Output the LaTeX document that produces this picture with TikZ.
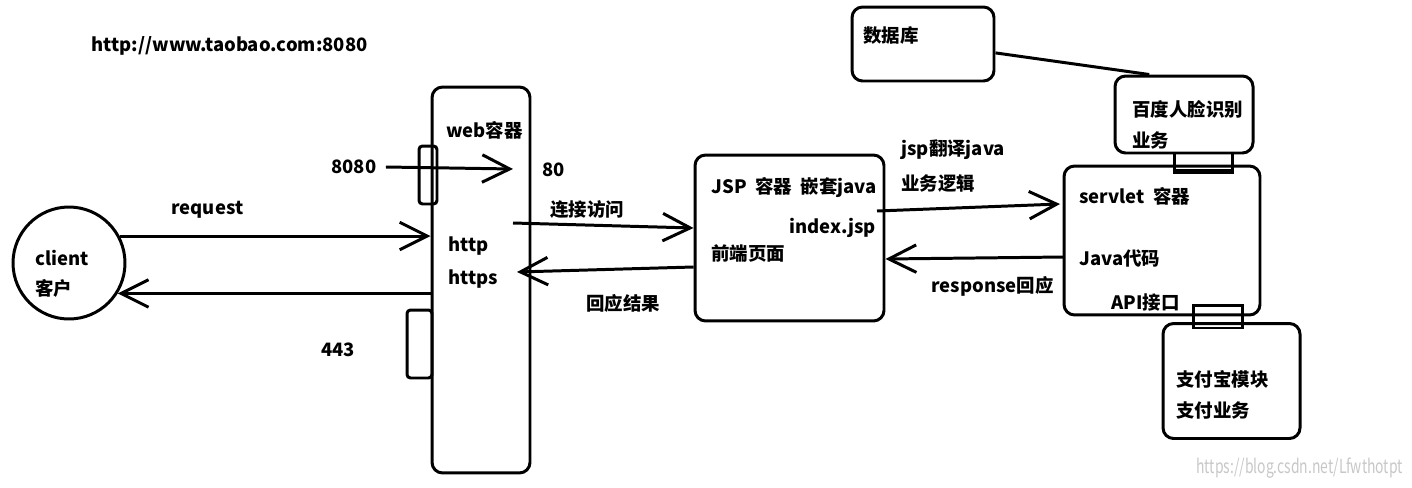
\documentclass[tikz,border=0pt]{standalone}
\usepackage{fontspec}
\setmainfont{Noto Sans CJK SC}
\usetikzlibrary{arrows.meta}

\begin{document}
\begin{tikzpicture}[x=0.02cm,y=-0.02cm,line width=1.7pt,
  >={Straight Barb[length=0.55cm,width=0.55cm]},
  box node/.style={draw,rounded corners=6pt,inner sep=0pt},
  port node/.style={draw,rounded corners=2pt,inner sep=0pt},
  text node/.style={anchor=west,inner sep=0pt,font=\bfseries\fontsize{10.5}{12}\selectfont}]

  \useasboundingbox (0,0) rectangle (1412,487);

  % boxes
  \node[draw,circle,minimum size=2.24cm,inner sep=0pt] (client) at (69,263) {};
  \node[box node,minimum width=1.96cm,minimum height=7.72cm] (web) at (481,280) {};
  \node[port node,minimum width=0.36cm,minimum height=1.16cm] (port1) at (428,175) {};
  \node[port node,minimum width=0.5cm,minimum height=1.36cm] (port2) at (419.5,344) {};
  \node[box node,minimum width=3.78cm,minimum height=3.32cm] (jsp) at (789.5,238) {};
  \node[box node,minimum width=2.84cm,minimum height=1.48cm] (db) at (923,44) {};
  \node[box node,minimum width=2.76cm,minimum height=1.54cm] (face) at (1184,114.5) {};
  \node[port node,rounded corners=0pt,minimum width=1.16cm,minimum height=0.34cm] (link1) at (1203,161.5) {};
  \node[box node,minimum width=3.92cm,minimum height=2.98cm] (servlet) at (1162,240.5) {};
  \node[box node,minimum width=2.74cm,minimum height=2.3cm] (pay) at (1231.5,381) {};
  \node[port node,rounded corners=0pt,minimum width=0.98cm,minimum height=0.46cm] (link2) at (1217.5,316.5) {};

  % texts
  \node[text node] (url) at (90,46) {http://www.taobao.com:8080};
  \node[text node] (client1) at (34,258) {client};
  \node[text node] (client2) at (34,288) {客户};
  \node[text node] (webname) at (445,130) {web容器};
  \node[text node] (t8080) at (330,167) {8080};
  \node[text node] (t80) at (541,170) {80};
  \node[text node] (req) at (170,210) {request};
  \node[text node] (http) at (447,246) {http};
  \node[text node] (https) at (447,279) {https};
  \node[text node] (t443) at (320,350) {443};
  \node[text node] (visit) at (549,210) {连接访问};
  \node[text node] (result) at (585,303) {回应结果};
  \node[text node] (jsp1) at (710,188) {JSP\ \ 容器\ \ 嵌套java};
  \node[text node] (jsp2) at (788,228) {index.jsp};
  \node[text node] (jsp3) at (710,253) {前端页面};
  \node[text node] (trans1) at (900,150) {jsp翻译java};
  \node[text node] (trans2) at (900,184) {业务逻辑};
  \node[text node] (resp) at (930,286) {response回应};
  \node[text node] (srv1) at (1078,196) {servlet\ \ 容器};
  \node[text node] (srv2) at (1078,258) {Java代码};
  \node[text node] (srv3) at (1110,303) {API接口};
  \node[text node] (dbname) at (862,35) {数据库};
  \node[text node] (face1) at (1131,109) {百度人脸识别};
  \node[text node] (face2) at (1131,140) {业务};
  \node[text node] (pay1) at (1175,379) {支付宝模块};
  \node[text node] (pay2) at (1175,410) {支付业务};
  \node[anchor=west,inner sep=0pt,text=black!22,font=\fontsize{11}{12}\selectfont] (mark) at (1195,468) {\scalebox{0.72}[1]{https://blog.csdn.net/Lfwthotpt}};

  % free ends
  \coordinate (in80) at (513,169);
  \coordinate (webout) at (513,223);
  \coordinate (webin) at (517,272);
  \coordinate (jspout) at (877,211);
  \coordinate (srvin) at (1060,204);
  \coordinate (srvout) at (1064,257);

  \draw[->] ([xshift=0.16cm]t8080.east) -- (in80);
  \draw[->] (client.28) -- (client.28 -| web.west);
  \draw[->] (client.-32 -| web.west) -- (client.-32);
  \draw[->] (webout) -- (jsp.west |- 0,228);
  \draw[->] (jsp.west |- 0,267) -- (webin);
  \draw[->] (jspout) -- (srvin);
  \draw[->] (srvout) -- (jsp.east |- 0,259);
  \draw (db.-7) -- (face.131);
  \draw[line width=3pt] (link1.south west) -- (link1.south east);

\end{tikzpicture}
\end{document}
